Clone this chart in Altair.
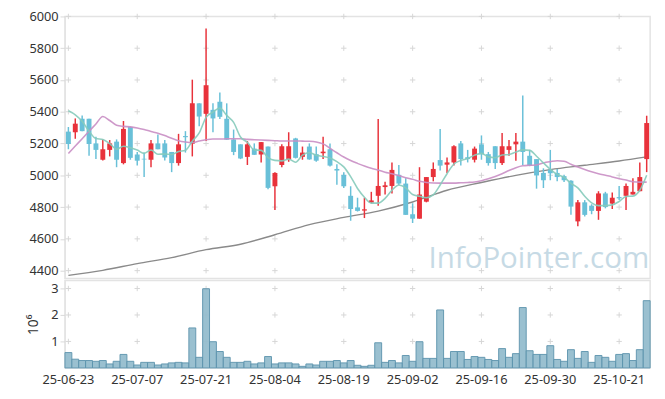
import altair as alt
import pandas as pd

dates = [
    "25-06-23", "25-06-24", "25-06-25", "25-06-26", "25-06-27", "25-06-30",
    "25-07-01", "25-07-02", "25-07-03", "25-07-04", "25-07-07", "25-07-08", "25-07-09", "25-07-10",
    "25-07-11", "25-07-14", "25-07-15", "25-07-16", "25-07-17", "25-07-18", "25-07-21", "25-07-22",
    "25-07-23", "25-07-24", "25-07-25", "25-07-28", "25-07-29", "25-07-30", "25-07-31",
    "25-08-01", "25-08-04", "25-08-05", "25-08-06", "25-08-07", "25-08-08", "25-08-11", "25-08-12",
    "25-08-13", "25-08-14", "25-08-18", "25-08-19", "25-08-20", "25-08-21", "25-08-22", "25-08-25",
    "25-08-26", "25-08-27", "25-08-28", "25-08-29",
    "25-09-01", "25-09-02", "25-09-03", "25-09-04", "25-09-05", "25-09-08", "25-09-09", "25-09-10",
    "25-09-11", "25-09-12", "25-09-15", "25-09-16", "25-09-17", "25-09-18", "25-09-19", "25-09-22",
    "25-09-23", "25-09-24", "25-09-25", "25-09-26", "25-09-29", "25-09-30",
    "25-10-01", "25-10-02", "25-10-10", "25-10-13", "25-10-14", "25-10-15", "25-10-16", "25-10-17",
    "25-10-20", "25-10-21", "25-10-22", "25-10-23", "25-10-24", "25-10-27",
]

opens = [5275, 5271, 5356, 5356, 5201, 5098, 5160, 5212, 5077, 5304, 5131, 5104, 5098, 5201, 5201,
         5147, 5077, 5247, 5199, 5453, 5387, 5412, 5463, 5356, 5226, 5195, 5116, 5168, 5131, 5181,
         4931, 5065, 5100, 5232, 5116, 5181, 5133, 5139, 5164, 5040, 5003, 4871, 4798, 4778, 4828,
         4871, 4926, 4933, 5003, 4948, 4755, 4727, 4834, 4989, 5096, 5067, 5081, 5201, 5114, 5098,
         5195, 5133, 5183, 5077, 5160, 5195, 5212, 5123, 5102, 5015, 5036, 5015, 4995, 4966, 4710,
         4830, 4809, 4776, 4886, 4822, 4863, 4871, 4879, 4900, 5102]
highs = [5304, 5358, 5377, 5356, 5243, 5226, 5222, 5226, 5342, 5304, 5147, 5143, 5222, 5257, 5222,
         5147, 5261, 5278, 5602, 5453, 5924, 5453, 5521, 5453, 5288, 5195, 5216, 5201, 5209, 5181,
         5020, 5195, 5271, 5236, 5181, 5201, 5181, 5243, 5201, 5069, 5020, 4931, 4859, 4859, 4896,
         5354, 4960, 5081, 5065, 4982, 4824, 5051, 4989, 5081, 5292, 5112, 5189, 5216, 5160, 5181,
         5251, 5147, 5183, 5267, 5222, 5267, 5503, 5160, 5102, 5044, 5160, 5040, 5003, 4969, 4844,
         4844, 4818, 4900, 4896, 4892, 4933, 4948, 4982, 5081, 5375]
lows = [5164, 5230, 5278, 5123, 5102, 5094, 5119, 5051, 5069, 5098, 5061, 4989, 5051, 5164, 5094,
        5020, 5061, 5143, 5119, 5309, 5216, 5271, 5354, 5224, 5127, 5102, 5065, 5129, 5081, 4913,
        4782, 5051, 5085, 5106, 5098, 5098, 5085, 5102, 5055, 4941, 4920, 4714, 4772, 4731, 4824,
        4809, 4879, 4886, 4937, 4751, 4700, 4727, 4830, 4962, 5030, 5015, 5061, 5061, 5081, 5081,
        5098, 5061, 5040, 5065, 5123, 5092, 5065, 5057, 4916, 4920, 4969, 4962, 4958, 4751, 4679,
        4741, 4755, 4720, 4792, 4788, 4844, 4782, 4879, 4900, 5020]
closes = [5197, 5325, 5278, 5197, 5160, 5164, 5201, 5098, 5292, 5110, 5092, 5100, 5201, 5164, 5112,
          5077, 5195, 5240, 5453, 5370, 5567, 5358, 5368, 5224, 5147, 5106, 5195, 5129, 5209, 4921,
          5015, 5183, 5183, 5110, 5143, 5100, 5092, 5149, 5061, 5030, 4931, 4788, 4776, 4786, 4842,
          4933, 4937, 5034, 4948, 4751, 4727, 4879, 4989, 5040, 5061, 5081, 5183, 5102, 5102, 5168,
          5133, 5077, 5077, 5183, 5183, 5212, 5147, 5061, 4999, 4969, 5013, 4989, 4969, 4803, 4830,
          4751, 4776, 4886, 4800, 4859, 4855, 4933, 4896, 4989, 5329]
volumes = [0.58, 0.33, 0.28, 0.28, 0.25, 0.28, 0.15, 0.25, 0.51, 0.25, 0.11, 0.21, 0.21, 0.11, 0.15,
           0.19, 0.21, 0.19, 1.51, 0.40, 2.99, 0.99, 0.62, 0.40, 0.21, 0.21, 0.25, 0.15, 0.19, 0.43,
           0.15, 0.19, 0.19, 0.15, 0.06, 0.15, 0.11, 0.25, 0.25, 0.28, 0.19, 0.28, 0.10, 0.06, 0.10,
           0.95, 0.21, 0.28, 0.19, 0.47, 0.25, 0.99, 0.36, 0.36, 2.19, 0.36, 0.62, 0.62, 0.32, 0.43,
           0.40, 0.32, 0.28, 0.73, 0.40, 0.54, 2.28, 0.65, 0.51, 0.51, 0.84, 0.32, 0.25, 0.69, 0.36,
           0.62, 0.21, 0.47, 0.40, 0.25, 0.51, 0.54, 0.28, 0.69, 2.54]
ma5 = [5406, 5381, 5340, 5278, 5231, 5225, 5200, 5164, 5183, 5173, 5159, 5138, 5159, 5133, 5134,
       5131, 5150, 5158, 5215, 5267, 5365, 5398, 5423, 5377, 5333, 5241, 5208, 5160, 5157, 5112,
       5094, 5091, 5102, 5082, 5127, 5144, 5126, 5119, 5109, 5086, 5053, 4992, 4917, 4862, 4825,
       4825, 4855, 4906, 4939, 4921, 4879, 4868, 4859, 4877, 4939, 5010, 5071, 5093, 5106, 5127,
       5138, 5116, 5111, 5128, 5131, 5146, 5160, 5157, 5120, 5078, 5038, 5006, 4988, 4949, 4921,
       4868, 4826, 4809, 4809, 4814, 4835, 4867, 4869, 4906, 5000]
ma20 = [5137, 5184, 5230, 5277, 5323, 5370, 5345, 5315, 5308, 5305, 5298, 5288, 5276, 5265, 5250,
        5233, 5218, 5210, 5206, 5216, 5224, 5228, 5228, 5230, 5230, 5230, 5226, 5224, 5222, 5220,
        5218, 5216, 5216, 5216, 5215, 5214, 5210, 5198, 5170, 5142, 5115, 5093, 5075, 5058, 5044,
        5033, 5020, 5010, 4998, 4985, 4975, 4962, 4955, 4952, 4951, 4951, 4951, 4953, 4955, 4958,
        4966, 4978, 4993, 5010, 5030, 5048, 5060, 5063, 5065, 5078, 5086, 5092, 5088, 5070, 5052,
        5036, 5022, 5010, 5000, 4990, 4979, 4970, 4960, 4957, 4957]
ma_long_idx = [0, 5, 10, 15, 20, 25, 30, 35, 40, 45, 50, 55, 60, 65, 70, 75, 80, 84]
ma_long = [4370, 4402, 4444, 4482, 4532, 4566, 4626, 4690, 4735, 4775, 4832, 4906, 4955, 5000,
           5036, 5063, 5090, 5116]

price_ticks = [4400, 4600, 4800, 5000, 5200, 5400, 5600, 5800, 6000]
vol_ticks = [1, 2, 3]
date_ticks = ["25-06-23", "25-07-07", "25-07-21", "25-08-04", "25-08-19",
              "25-09-02", "25-09-16", "25-09-30", "25-10-21"]

UP, DOWN = "#e8323b", "#69c0d8"

df = pd.DataFrame({"date": dates, "open": opens, "high": highs, "low": lows,
                   "close": closes, "vol": volumes, "ma5": ma5, "ma20": ma20})
df["dir"] = ["up" if c >= o else "down" for o, c in zip(opens, closes)]
long_df = pd.DataFrame({"date": [dates[i] for i in ma_long_idx], "v": ma_long})
cross_p = pd.DataFrame([(d, p) for d in date_ticks for p in price_ticks], columns=["date", "v"])
cross_v = pd.DataFrame([(d, p) for d in date_ticks for p in vol_ticks], columns=["date", "v"])

W = 596
xscale = alt.Scale(domain=dates, paddingInner=0, paddingOuter=0)
x_hidden = alt.X("date:O", scale=xscale, axis=None)
pscale = alt.Scale(domain=[4350, 6000], nice=False, zero=False)
paxis = alt.Axis(values=price_ticks, title=None, grid=False, format="d", labelOverlap=False)


def py(field):
    return alt.Y(field, scale=pscale, axis=paxis)


color = alt.Color("dir:N", scale=alt.Scale(domain=["up", "down"], range=[UP, DOWN]), legend=None)
cross_shape = "M-1,0L1,0M0,-1L0,1"

p_cross = alt.Chart(cross_p).mark_point(shape=cross_shape, size=30, color="#d6d6d6",
                                         strokeWidth=1, filled=False, opacity=1).encode(
    x=x_hidden, y=py("v:Q"))
wick = alt.Chart(df).mark_rule(strokeWidth=1.5).encode(
    x=x_hidden, y=py("low:Q"), y2="high:Q", color=color)
body = alt.Chart(df).mark_bar(size=5).encode(
    x=x_hidden, y=py("open:Q"), y2="close:Q", color=color)
l5 = alt.Chart(df).mark_line(color="#86cbbb", strokeWidth=1.6, opacity=0.9,
                             interpolate="monotone").encode(x=x_hidden, y=py("ma5:Q"))
l20 = alt.Chart(df).mark_line(color="#c98ec4", strokeWidth=1.6, opacity=0.9,
                              interpolate="monotone").encode(x=x_hidden, y=py("ma20:Q"))
llong = alt.Chart(long_df).mark_line(color="#8a8a8a", strokeWidth=1.4,
                                     interpolate="monotone").encode(x=x_hidden, y=py("v:Q"))
wm = alt.Chart(pd.DataFrame({"t": ["InfoPointer.com"]})).mark_text(
    font="Open Sans", fontSize=30, color="#c6dae5", align="right", baseline="alphabetic").encode(
    text="t:N", x=alt.value(595), y=alt.value(256))

price = alt.layer(p_cross, wm, llong, wick, body, l20, l5).properties(width=W, height=267)

vscale = alt.Scale(domain=[0, 3.3], nice=False)
vaxis = alt.Axis(values=vol_ticks, title="10⁶", grid=False, titleFontSize=14,
                 titleFontWeight="normal", titleColor="#333", titleX=-25)
x_axis = alt.X("date:O", scale=xscale,
               axis=alt.Axis(values=date_ticks, title=None, labelAngle=0, ticks=False,
                             domain=False, labelPadding=6, labelFontSize=13))
v_cross = alt.Chart(cross_v).mark_point(shape=cross_shape, size=30, color="#d6d6d6",
                                         strokeWidth=1, filled=False, opacity=1).encode(
    x=x_axis, y=alt.Y("v:Q", scale=vscale, axis=vaxis))
vbars = alt.Chart(df).mark_bar(color="#95bdce", stroke="#5d94ad", strokeWidth=1,
                               opacity=0.95).encode(
    x=x_axis, y=alt.Y("vol:Q", scale=vscale, axis=vaxis))
volume = alt.layer(v_cross, vbars).properties(width=W, height=89)

chart = alt.vconcat(price, volume, spacing=0).properties(
    padding={"left": 18, "top": -2, "right": 5, "bottom": 5}
).configure_view(stroke="#e3e3e3", strokeWidth=1.5).configure_axis(
    labelFont="Noto Sans", titleFont="Noto Sans", labelFontSize=13, labelColor="#333",
    domainColor="#e3e3e3", tickColor="#d9d9d9", tickSize=5, labelPadding=2
)

chart.save("out.html", embed_options={"renderer": "svg", "actions": False})
